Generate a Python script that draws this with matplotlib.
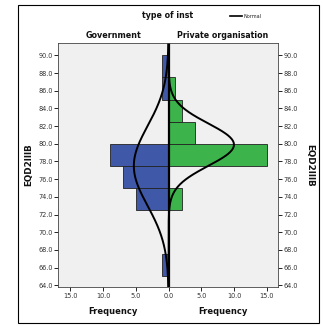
import numpy as np
import matplotlib
matplotlib.use("Agg")
import matplotlib.pyplot as plt
from matplotlib.patches import Rectangle

# Data
bin_edges = [65.0, 67.5, 70.0, 72.5, 75.0, 77.5, 80.0, 82.5, 85.0, 87.5, 90.0]
gov_counts = [1, 0, 0, 5, 7, 9, 0, 0, 1, 1]
priv_counts = [0, 0, 0, 2, 0, 15, 4, 2, 1, 0]
gov_mean, gov_sd = 77.5, 4.5
priv_mean, priv_sd = 79.9, 2.4
y_ticks = [64, 66, 68, 70, 72, 74, 76, 78, 80, 82, 84, 86, 88, 90]
x_ticks_left = [-15, -10, -5, 0]
x_ticks_right = [5, 10, 15]

BLUE = "#3f58a8"
GREEN = "#3cb44b"
BG = "#f0f0f0"

fig = plt.figure(figsize=(3.23, 3.26), dpi=100)
W, H = 323, 326

# outer frame
fig.patches.append(Rectangle((18 / W, 1 - 323 / H), (319 - 18) / W, (323 - 5) / H,
                             transform=fig.transFigure, fill=False, edgecolor="black",
                             linewidth=0.8))

ax = fig.add_axes([58 / W, 1 - 287 / H, (278 - 58) / W, (287 - 43) / H])
ax.set_facecolor(BG)

bw = bin_edges[1] - bin_edges[0]
lefts = bin_edges[:-1]
ax.barh(lefts, [-c for c in gov_counts], height=bw, align="edge", left=0,
        color=BLUE, edgecolor="#222222", linewidth=0.6)
ax.barh(lefts, priv_counts, height=bw, align="edge", left=0,
        color=GREEN, edgecolor="#222222", linewidth=0.6)

yy = np.linspace(63.8, 91.4, 400)
ng = sum(gov_counts)
npv = sum(priv_counts)
gcurve = ng * bw / (gov_sd * np.sqrt(2 * np.pi)) * np.exp(-0.5 * ((yy - gov_mean) / gov_sd) ** 2)
pcurve = npv * bw / (priv_sd * np.sqrt(2 * np.pi)) * np.exp(-0.5 * ((yy - priv_mean) / priv_sd) ** 2)
ax.plot(-gcurve, yy, color="black", linewidth=1.4)
ax.plot(pcurve, yy, color="black", linewidth=1.4)
ax.axvline(0, color="black", linewidth=1.6)

ax.set_xlim(-16.9, 16.7)
ax.set_ylim(63.8, 91.4)

xt = x_ticks_left + x_ticks_right
ax.set_xticks(xt)
ax.set_xticklabels([f"{abs(v):.1f}" for v in xt])
ax.set_yticks(y_ticks)
ax.set_yticklabels([f"{v:.1f}" for v in y_ticks])
ax.tick_params(axis="both", labelsize=4.7, length=3, width=0.6, pad=1, colors="black",
               labelcolor="#333333")
ax.tick_params(axis="y", left=True, right=True, labelleft=True, labelright=True)
for s in ax.spines.values():
    s.set_linewidth(0.6)
    s.set_color("#444444")

bold = dict(fontweight="bold", color="#111111")
fig.text(168 / W, 1 - 16 / H, "type of inst", ha="center", va="center", fontsize=5.7, **bold)
fig.lines.append(plt.Line2D([230 / W, 242 / W], [1 - 15.5 / H, 1 - 15.5 / H],
                            transform=fig.transFigure, color="black", linewidth=1.2))
fig.text(243 / W, 1 - 16 / H, "Normal", ha="left", va="center", fontsize=3.6, color="#222222")
fig.text(113 / W, 1 - 35 / H, "Government", ha="center", va="center", fontsize=5.8, **bold)
fig.text(223 / W, 1 - 35 / H, "Private organisation", ha="center", va="center", fontsize=5.7, **bold)
fig.text(113 / W, 1 - 312 / H, "Frequency", ha="center", va="center", fontsize=6.0, **bold)
fig.text(223 / W, 1 - 312 / H, "Frequency", ha="center", va="center", fontsize=6.0, **bold)
fig.text(29 / W, 1 - 165 / H, "EQD2IIIB", ha="center", va="center", rotation=90, fontsize=6.3, **bold)
fig.text(310 / W, 1 - 165 / H, "EQD2IIIB", ha="center", va="center", rotation=270, fontsize=6.3, **bold)

fig.savefig("out.png", dpi=100, facecolor="white")
